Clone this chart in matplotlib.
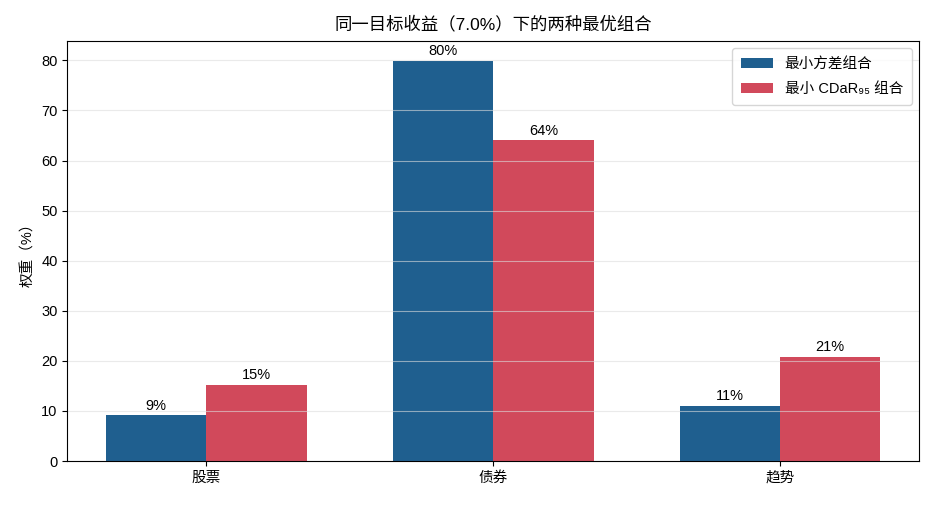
import numpy as np
import matplotlib
matplotlib.use('Agg')
import matplotlib.pyplot as plt

plt.rcParams['font.family'] = ['Liberation Sans', 'Noto Sans CJK SC', 'DejaVu Sans']
plt.rcParams['axes.unicode_minus'] = False

assets = ['股票', '债券', '趋势']
w_minvar = [9.1, 79.9, 11.0]
w_cdar = [15.2, 64.1, 20.8]
labels = ['最小方差组合', '最小 CDaR₉₅ 组合']

x = np.arange(len(assets))
width = 0.35

fig, ax = plt.subplots(figsize=(9.35, 5.05), dpi=100)
b1 = ax.bar(x - width/2, w_minvar, width, color='#1f5f8f', label=labels[0])
b2 = ax.bar(x + width/2, w_cdar, width, color='#d1495b', label=labels[1])

# étiquettes au-dessus des barres
for bars, vals in [(b1, w_minvar), (b2, w_cdar)]:
    for r, v in zip(bars, vals):
        ax.text(r.get_x() + r.get_width()/2, r.get_height() + 0.5, f'{v:.0f}%',
                ha='center', va='bottom', fontsize=10.5)

ax.set_xticks(x)
ax.set_xticklabels(assets, fontsize=10.5)
ax.tick_params(axis='y', labelsize=10.5)
ax.set_ylabel('权重（%）', fontsize=10.5)
ax.set_title('同一目标收益（7.0%）下的两种最优组合', fontsize=12.5, pad=8)
ax.grid(axis='y', color='#dddddd', linewidth=0.8, alpha=0.6)
ax.legend(loc='upper right', fontsize=10.5, labelspacing=0.75, borderpad=0.6,
          handlelength=2.2)

plt.subplots_adjust(left=0.072, right=0.983, top=0.919, bottom=0.087)
plt.savefig('out.png', dpi=100)
